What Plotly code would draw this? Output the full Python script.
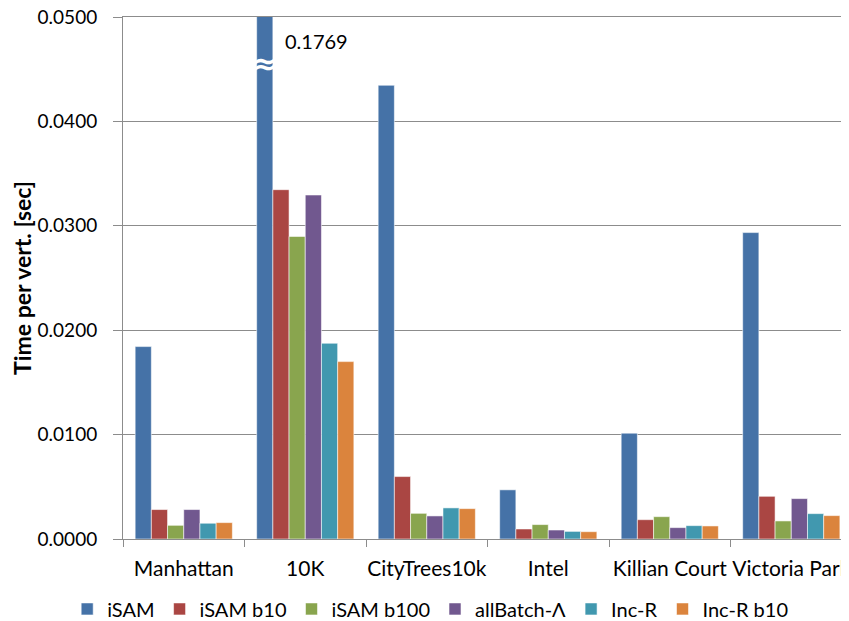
import plotly.graph_objects as go

# datasets on the x axis
datasets = ['Manhattan', '10K', 'CityTrees10k', 'Intel', 'Killian Court', 'Victoria Park']

# time per vertex [sec], one list per method
isam = [0.01843, 0.1769, 0.04346, 0.00471, 0.01014, 0.02935]
isam_b10 = [0.00282, 0.03346, 0.00598, 0.00096, 0.00185, 0.00409]
isam_b100 = [0.00131, 0.02898, 0.00246, 0.00138, 0.00214, 0.00173]
allbatch = [0.00282, 0.03295, 0.00221, 0.00086, 0.00109, 0.00387]
inc_r = [0.00151, 0.01875, 0.00298, 0.00073, 0.00128, 0.00243]
inc_r_b10 = [0.00157, 0.01699, 0.00291, 0.00070, 0.00125, 0.00224]

# y axis ticks
y_ticks = [0.0, 0.01, 0.02, 0.03, 0.04, 0.05]

series = [
    ('iSAM', isam, '#4572A7'),
    ('iSAM b10', isam_b10, '#AA4643'),
    ('iSAM b100', isam_b100, '#89A54E'),
    ('allBatch-Λ', allbatch, '#71588F'),
    ('Inc-R', inc_r, '#4198AF'),
    ('Inc-R b10', inc_r_b10, '#DB843D'),
]

y_max = 0.0500001  # tiny pad so the 0.0500 tick survives
bargap = 0.2
font = 'Lato, Open Sans, sans-serif'
grid = '#8c8c8c'

fig = go.Figure()
for name, vals, col in series:
    fig.add_trace(go.Bar(
        x=datasets, y=vals, name=name,
        marker=dict(color=col, line=dict(color='rgba(255,255,255,0.55)', width=1)),
    ))

# the 10K iSAM bar runs off the chart: break mark and its real value
i10k = datasets.index('10K')
bar_w = (1 - bargap) / len(series)
x_isam = i10k - (1 - bargap) / 2 + bar_w / 2
fig.add_annotation(x=x_isam, y=0.0455, xref='x', yref='y', text='<b>≈</b>',
                   showarrow=False, font=dict(color='white', size=30, family='DejaVu Sans'))
fig.add_annotation(x=x_isam + bar_w / 2, y=0.0477, xref='x', yref='y',
                   text=f'{isam[i10k]:.4f}', showarrow=False, xanchor='left', xshift=10,
                   font=dict(color='black', size=20, family=font))

# page body has an 8px margin, so the figure is 8px smaller than the window
fig.update_layout(
    template='none',
    width=841, height=613,
    margin=dict(l=115, r=0, t=9, b=82, autoexpand=False),
    barmode='group', bargap=bargap, bargroupgap=0,
    paper_bgcolor='white', plot_bgcolor='white',
    font=dict(family=font, size=19, color='black'),
    showlegend=True,
    legend=dict(orientation='h', xref='container', x=0.502, xanchor='center',
                y=-0.134, yanchor='middle',
                font=dict(size=20), itemwidth=30, traceorder='normal'),
    xaxis=dict(
        range=[-0.5, 5.475], automargin=False,
        showline=True, linecolor=grid, linewidth=1, mirror=True,  # top line = 0.05 grid
        ticks='outside', tickson='boundaries', ticklen=7, tickcolor=grid,
        showgrid=False, ticklabelstandoff=11, tickangle=0, tickfont=dict(size=21),
        ticklabeloverflow='allow',
    ),
    yaxis=dict(
        range=[0, y_max], tickvals=y_ticks, tickformat='.4f', automargin=False,
        showline=True, linecolor=grid, linewidth=1,
        ticks='outside', ticklen=9, tickcolor=grid,
        showgrid=True, gridcolor=grid, gridwidth=1, zeroline=False,
        ticklabelstandoff=12, tickfont=dict(size=19), ticklabeloverflow='allow',
        title=dict(text='<b>Time per vert. [sec]</b>', font=dict(size=23), standoff=4),
    ),
)

fig.write_html('out.html')
